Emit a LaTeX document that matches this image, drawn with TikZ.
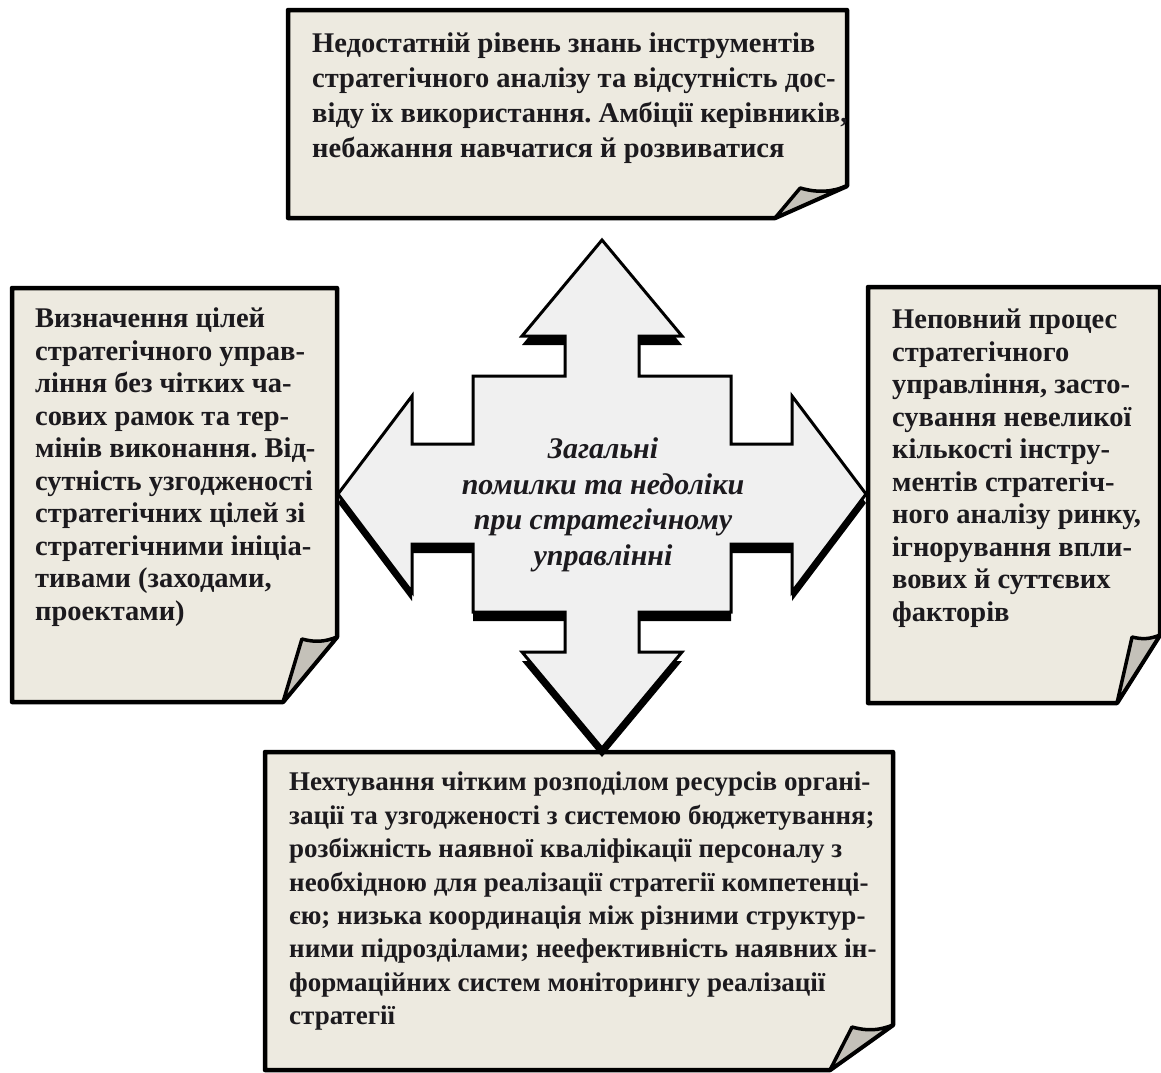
\documentclass[tikz,border=0pt]{standalone}
\usepackage{fontspec}
\setmainfont{Liberation Serif}
\definecolor{paperfill}{HTML}{EDEAE0}
\definecolor{foldfill}{HTML}{C4C1B9}
\definecolor{crossfill}{HTML}{F0F0F0}
\definecolor{inktext}{HTML}{1C1A1E}
\frenchspacing

% page with a dog-ear: x1,y1,x2,y2,dx,dy
\newcommand\paper[6]{%
  \draw[page] (#1,#2) -- (#3,#2) -- (#3,#4-#6) -- (#3-#5,#4) -- (#1,#4) -- cycle;
  \draw[flap] (#3-#5,#4) -- (#3-0.65*#5,#4-#6+2) to[bend right=18] (#3,#4-#6) -- cycle;
}

\begin{document}
\begin{tikzpicture}[x=1pt,y=-1pt,
    page/.style={draw,line width=4.5pt,fill=paperfill,line join=round},
    flap/.style={draw,line width=3.5pt,fill=foldfill,line join=round},
    note/.style={anchor=north west,inner sep=0pt,align=left,text=inktext,
      font=\fontsize{28.5}{32.5}\selectfont\bfseries},
    cross/.style={draw,line width=3pt,fill=crossfill,line join=miter,
      preaction={fill=black,transform canvas={yshift=-9pt}}}]
  \useasboundingbox (0,0) rectangle (1161,1072);

  \paper{288}{10}{847}{218}{72}{32}
  \paper{12}{288}{337}{702}{54}{65}
  \paper{868}{287}{1160}{703}{43}{68}
  \paper{265}{752}{893}{1070}{63}{45}

  % central four-headed arrow
  \begin{scope}[shift={(602,494)}]
    \draw[cross] (0,-254) -- (80,-158) -- (37,-158) -- (37,-118) -- (129,-118)
      -- (129,-50) -- (190,-50) -- (190,-98) -- (264,0) -- (190,98) -- (190,50)
      -- (129,50) -- (129,118) -- (37,118) -- (37,158) -- (80,158) -- (0,254)
      -- (-80,158) -- (-37,158) -- (-37,118) -- (-129,118) -- (-129,50)
      -- (-190,50) -- (-190,98) -- (-264,0) -- (-190,-98) -- (-190,-50)
      -- (-129,-50) -- (-129,-118) -- (-37,-118) -- (-37,-158) -- (-80,-158) -- cycle;
  \end{scope}
  \node[align=center,text=inktext,font=\fontsize{30}{35.5}\selectfont\bfseries\itshape]
    (centre) at (603,505) {Загальні\\ помилки та недоліки\\ при стратегічному\\ управлінні};

  \node[note,font=\fontsize{28.5}{35}\selectfont\bfseries] (topnote) at (312,33)
    {Недостатній рівень знань інструментів\\
     стратегічного аналізу та відсутність дос-\\
     віду їх використання. Амбіції керівників,\\
     небажання навчатися й розвиватися};
  \node[note] (leftnote) at (35,308)
    {Визначення цілей\\ стратегічного управ-\\ ління без чітких ча-\\
     сових рамок та тер-\\ мінів виконання. Від-\\ сутність узгодженості\\
     стратегічних цілей зі\\ стратегічними ініціа-\\ тивами (заходами,\\ проектами)};
  \node[note] (rightnote) at (892,309)
    {Неповний процес\\ стратегічного\\ управління, засто-\\ сування невеликої\\
     кількості інстру-\\ ментів стратегіч-\\ ного аналізу ринку,\\
     ігнорування впли-\\ вових й суттєвих\\ факторів};
  \node[note,font=\fontsize{27}{33.4}\selectfont\bfseries] (bottomnote) at (289,772)
    {Нехтування чітким розподілом ресурсів органі-\\
     зації та узгодженості з системою бюджетування;\\
     розбіжність наявної кваліфікації персоналу з\\
     необхідною для реалізації стратегії компетенці-\\
     єю; низька координація між різними структур-\\
     ними підрозділами; неефективність наявних ін-\\
     формаційних систем моніторингу реалізації\\
     стратегії};
\end{tikzpicture}
\end{document}
